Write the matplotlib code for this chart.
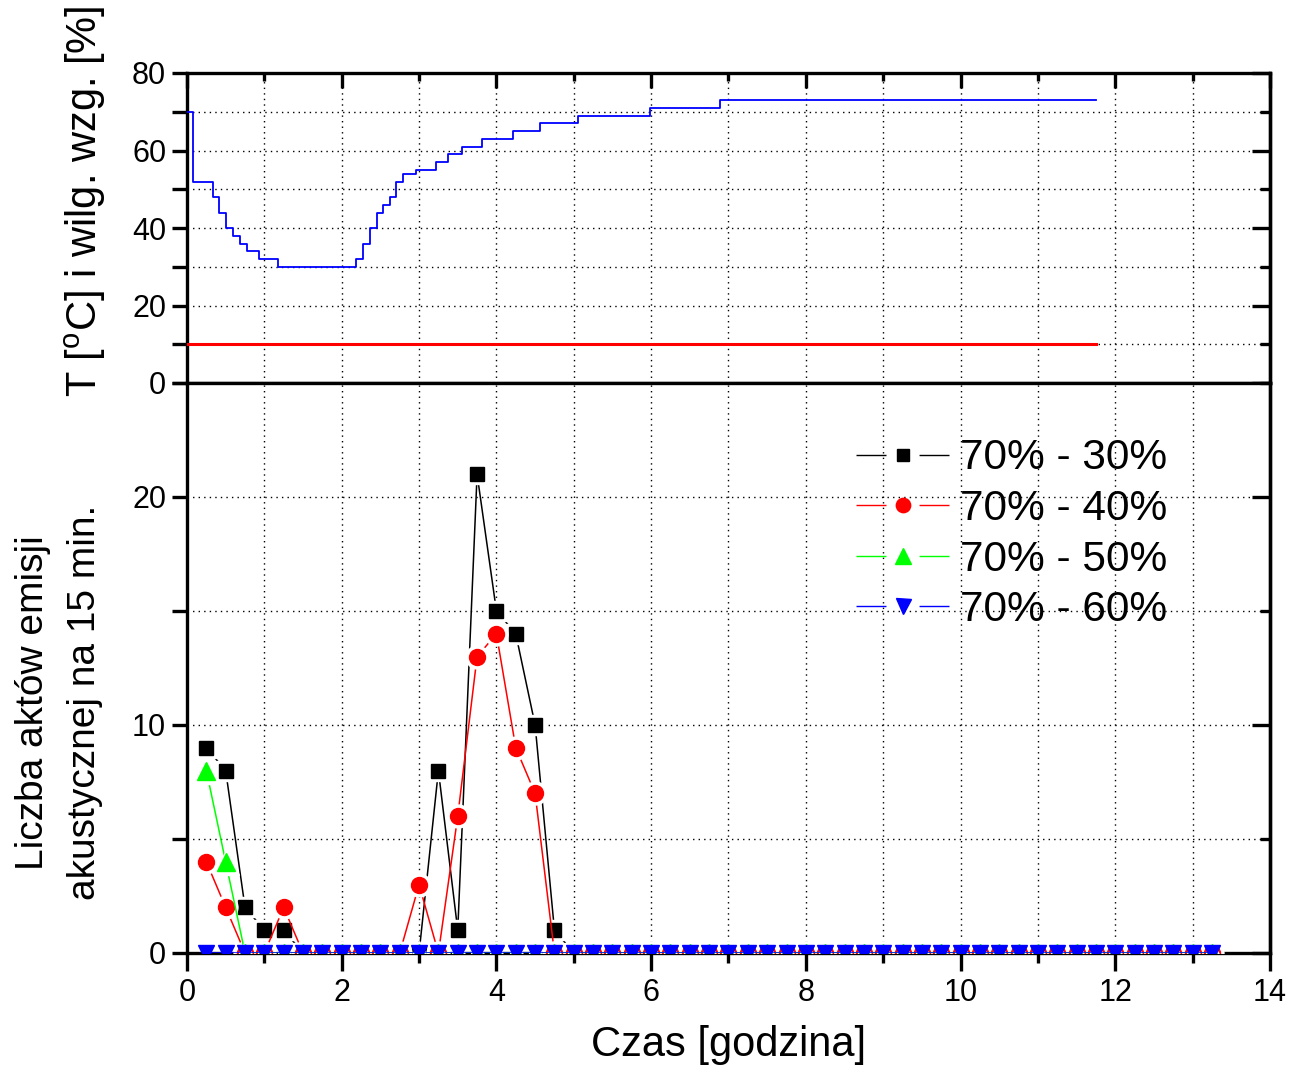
import numpy as np
import matplotlib
matplotlib.use("Agg")
import matplotlib.pyplot as plt
from matplotlib.ticker import MultipleLocator
from matplotlib.lines import Line2D

plt.rcParams['font.family'] = ['Liberation Sans', 'DejaVu Sans']
plt.rcParams['mathtext.fontset'] = 'custom'
plt.rcParams['mathtext.rm'] = 'Liberation Sans'
plt.rcParams['mathtext.it'] = 'Liberation Sans'

# ---- Top panel data: relative humidity steps and temperature ----
rh_time = [0, 0.083, 0.337, 0.42, 0.51, 0.6, 0.68, 0.77, 0.93, 1.18, 2.19, 2.28, 2.36, 2.45,
           2.54, 2.62, 2.70, 2.79, 2.96, 3.22, 3.38, 3.56, 3.81, 4.22, 4.56, 5.06, 5.98, 6.89, 11.75]
rh_value = [70, 52, 48, 44, 40, 38, 36, 34, 32, 30, 32, 36, 40, 44,
            46, 48, 52, 54, 55, 57, 59, 61, 63, 65, 67, 69, 71, 73, 73]
temp_time = [0, 11.75]
temp_value = [10, 10]

# ---- Bottom panel data: AE counts per 15 min ----
times = np.arange(1, 54) * 0.25
s30 = [9, 8, 2, 1, 1, 0, 0, 0, 0, 0, 0, 0, 8, 1, 21, 15, 14, 10, 1,
       0, 0, 0, 0, 0, 0, 0, 0, 0, 0, 0, 0, 0, 0, 0, 0, 0, 0, 0, 0, 0, 0, 0, 0, 0, 0, 0, 0, 0, 0, 0, 0, 0, 0]
s40 = [4, 2, 0, 0, 2, 0, 0, 0, 0, 0, 0, 3, 0, 6, 13, 14, 9, 7, 0,
       0, 0, 0, 0, 0, 0, 0, 0, 0, 0, 0, 0, 0, 0, 0, 0, 0, 0, 0, 0, 0, 0, 0, 0, 0, 0, 0, 0, 0, 0, 0, 0, 0, 0]
s50 = [8, 4, 0, 0, 0, 0, 0, 0, 0, 0, 0, 0, 0, 0, 0, 0, 0, 0, 0,
       0, 0, 0, 0, 0, 0, 0, 0, 0, 0, 0, 0, 0, 0, 0, 0, 0, 0, 0, 0, 0, 0, 0, 0, 0, 0, 0, 0, 0, 0, 0, 0, 0, 0]
s60 = [0, 0, 0, 0, 0, 0, 0, 0, 0, 0, 0, 0, 0, 0, 0, 0, 0, 0, 0,
       0, 0, 0, 0, 0, 0, 0, 0, 0, 0, 0, 0, 0, 0, 0, 0, 0, 0, 0, 0, 0, 0, 0, 0, 0, 0, 0, 0, 0, 0, 0, 0, 0, 0]
labels = ["70% - 30%", "70% - 40%", "70% - 50%", "70% - 60%"]

fig = plt.figure(figsize=(12.9, 10.66), dpi=100)
L, R = 187 / 1290, 1270 / 1290
W = R - L
y_top_top = 1 - 73 / 1066
y_mid = 1 - 383 / 1066
y_bot = 1 - 953 / 1066
ax1 = fig.add_axes([L, y_mid, W, y_top_top - y_mid])
ax2 = fig.add_axes([L, y_bot, W, y_mid - y_bot])

grid_kw = dict(color='black', linestyle=(0, (1, 3)), linewidth=1.0)
SPW = 2.4
TS = 22

for ax in (ax1, ax2):
    ax.set_xlim(0, 14)
    ax.xaxis.set_major_locator(MultipleLocator(2))
    ax.xaxis.set_minor_locator(MultipleLocator(1))
    for sp in ax.spines.values():
        sp.set_linewidth(SPW)
    ax.grid(True, which='both', axis='x', **grid_kw)

# ---------------- Top panel ----------------
ax1.step(rh_time, rh_value, where='post', color='#0000ff', linewidth=1.3, zorder=3)
ax1.plot(temp_time, temp_value, color='#ff0000', linewidth=2.2, zorder=3)
ax1.set_ylim(0, 80)
ax1.yaxis.set_major_locator(MultipleLocator(20))
ax1.yaxis.set_minor_locator(MultipleLocator(10))
ax1.grid(True, which='both', axis='y', **grid_kw)
ax1.tick_params(axis='x', which='both', bottom=False, labelbottom=False, top=True, direction='in')
ax1.tick_params(axis='x', which='major', length=11, width=SPW)
ax1.tick_params(axis='x', which='minor', length=6, width=SPW)
ax1.tick_params(axis='y', which='both', left=True, right=False, direction='out', labelsize=TS, pad=4)
ax1.tick_params(axis='y', which='both', length=11, width=SPW)
ax1.set_ylabel("T [$^{\\mathrm{o}}$C] i wilg. wzg. [%]", fontsize=30)
ax1.yaxis.set_label_coords(-0.073, 0.585)

sec1 = ax1.secondary_yaxis('right')
sec1.yaxis.set_major_locator(MultipleLocator(20))
sec1.yaxis.set_minor_locator(MultipleLocator(10))
sec1.tick_params(axis='y', which='both', direction='in', labelright=False, width=SPW)
sec1.tick_params(axis='y', which='major', length=13)
sec1.tick_params(axis='y', which='minor', length=7)
sec1.spines['right'].set_linewidth(SPW)

# ---------------- Bottom panel ----------------
series = [s30, s40, s50, s60]
colors = ['black', '#ff0000', '#00ff00', '#0000ff']
markers = ['s', 'o', '^', 'v']
msizes = [10, 11.5, 13, 12]
for k, (ys, c, m, ms) in enumerate(zip(series, colors, markers, msizes)):
    z = 3 + k
    ax2.plot(times, ys, color=c, linewidth=1.1, zorder=z)
    if k < 3:
        ax2.plot(times, ys, linestyle='none', marker=m, markersize=ms + 5,
                 markerfacecolor='white', markeredgecolor='white', zorder=z + 0.3)
    ax2.plot(times, ys, linestyle='none', marker=m, markersize=ms,
             markerfacecolor=c, markeredgecolor=c, zorder=z + 0.6)

ax2.set_ylim(0, 25)
ax2.yaxis.set_major_locator(MultipleLocator(10))
ax2.yaxis.set_minor_locator(MultipleLocator(5))
ax2.grid(True, which='both', axis='y', **grid_kw)
ax2.tick_params(axis='x', which='both', top=False, direction='out', labelsize=TS, pad=5)
ax2.tick_params(axis='x', which='major', length=13, width=SPW)
ax2.tick_params(axis='x', which='minor', length=7, width=SPW)
ax2.tick_params(axis='y', which='both', left=True, right=False, direction='out', labelsize=TS, pad=4)
ax2.tick_params(axis='y', which='both', length=11, width=SPW)
ax2.set_xlabel("Czas [godzina]", fontsize=30, labelpad=12)
ax2.set_ylabel("Liczba aktów emisji\nakustycznej na 15 min.", fontsize=28, linespacing=1.55)
ax2.yaxis.set_label_coords(-0.078, 0.44)

sec2 = ax2.secondary_yaxis('right')
sec2.yaxis.set_major_locator(MultipleLocator(10))
sec2.yaxis.set_minor_locator(MultipleLocator(5))
sec2.tick_params(axis='y', which='both', direction='in', labelright=False, width=SPW)
sec2.tick_params(axis='y', which='major', length=13)
sec2.tick_params(axis='y', which='minor', length=7)
sec2.spines['right'].set_linewidth(SPW)

# Legend with Origin-style handles (line - marker - line)
handles = []
for c, m, ms in zip(colors, markers, msizes):
    handles.append(Line2D([], [], color=c, linewidth=1.0, linestyle=(0, (21.6, 23.8, 21.6, 60)),
                          marker=m, markersize=ms * 0.9, markerfacecolor=c, markeredgecolor=c))
leg = ax2.legend(handles, labels, loc='upper left', bbox_to_anchor=(0.602, 0.9325), frameon=False,
                 fontsize=30.5, handlelength=2.2, handletextpad=0.25, labelspacing=0.25,
                 borderaxespad=0)

fig.savefig("out.png", dpi=100)
